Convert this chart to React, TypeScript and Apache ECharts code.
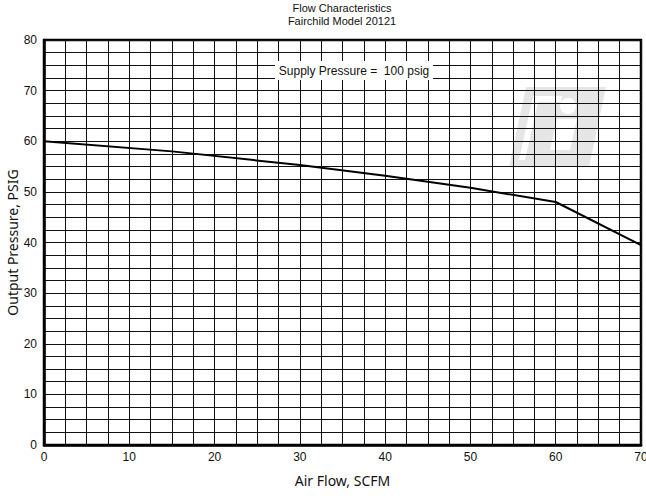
import React, { useEffect, useRef } from "react";
import * as echarts from "echarts";

const titleLines = ["Flow Characteristics", "Fairchild Model 20121"];
const xAxisName = "Air Flow, SCFM";
const yAxisName = "Output Pressure, PSIG";
const noteText = "Supply Pressure =  100 psig";
const airFlow = [0, 15, 30, 40, 50, 60, 70];
const outputPressure = [60, 58, 55.3, 53.2, 50.8, 48, 39.5];
const xRange = [0, 70];
const yRange = [0, 80];
const tickInterval = 10;

export default function App() {
  const ref = useRef<HTMLDivElement>(null);
  useEffect(() => {
    if (!ref.current) return;
    const chart = echarts.init(ref.current, null, { renderer: "svg" });
    const data = airFlow.map((x, i) => [x, outputPressure[i]]);
    const gridLine = { lineStyle: { color: "#111", width: 1 } };
    const axisCommon = {
      type: "value" as const,
      interval: tickInterval,
      axisLine: { show: true, lineStyle: { color: "#000", width: 2.5 } },
      axisTick: { show: false },
      splitLine: { show: true, ...gridLine },
      minorTick: { show: false, splitNumber: 4 },
      minorSplitLine: { show: true, ...gridLine },
      axisLabel: { color: "#111", fontSize: 12, fontFamily: "Liberation Sans, Arial, sans-serif" },
      nameLocation: "middle" as const,
      nameMoveOverlap: false,
      nameTextStyle: { color: "#111", fontSize: 14, fontFamily: "Noto Sans, sans-serif" },
    };
    const titleStyle = { fill: "#111", fontSize: 11, fontFamily: "Liberation Sans, Arial, sans-serif", align: "center", verticalAlign: "middle" };
    chart.setOption({
      animation: false,
      backgroundColor: "#fff",
      grid: {
        left: 44, right: 5, top: 40, bottom: 51,
        containLabel: false, outerBoundsMode: "none",
        show: true, borderColor: "#000", borderWidth: 2.5, backgroundColor: "transparent",
      },
      xAxis: {
        ...axisCommon,
        min: xRange[0],
        max: xRange[1],
        name: xAxisName,
        nameGap: 28,
        axisLabel: { ...axisCommon.axisLabel, margin: 6 },
      },
      yAxis: {
        ...axisCommon,
        min: yRange[0],
        max: yRange[1],
        name: yAxisName,
        nameGap: 25,
        axisLabel: { ...axisCommon.axisLabel, margin: 7 },
      },
      graphic: [
        { type: "text", x: 342, y: 8, silent: true, style: { ...titleStyle, text: titleLines[0] } },
        { type: "text", x: 342, y: 21, silent: true, style: { ...titleStyle, text: titleLines[1] } },
        {
          type: "group",
          z: -1,
          silent: true,
          children: [
            { type: "polygon", shape: { points: [[526, 87], [606, 87], [589, 167], [509, 167]] }, style: { fill: "#e6e6e6" } },
            { type: "polygon", shape: { points: [[533, 96], [562, 96], [561, 102], [538, 102], [525, 160], [519, 160]] }, style: { fill: "#fff" } },
            { type: "circle", shape: { cx: 568, cy: 106, r: 8 }, style: { fill: "#fff" } },
            { type: "polygon", shape: { points: [[557, 119], [577, 119], [570, 150], [550, 150]] }, style: { fill: "#fff" } },
          ],
        },
        {
          type: "rect",
          z: 10,
          silent: true,
          shape: { x: 275, y: 61, width: 158, height: 19 },
          style: { fill: "#fff" },
        },
        {
          type: "text",
          z: 11,
          x: 354,
          y: 71,
          silent: true,
          style: { text: noteText, fill: "#111", fontSize: 12, fontFamily: "Liberation Sans, Arial, sans-serif", align: "center", verticalAlign: "middle" },
        },
      ],
      series: [
        {
          type: "line",
          data,
          symbol: "none",
          z: 5,
          lineStyle: { color: "#000", width: 2 },
        },
      ],
    });
    return () => chart.dispose();
  }, []);
  return <div ref={ref} style={{ position: "fixed", left: 0, top: 0, width: 646, height: 496 }} />;
}
